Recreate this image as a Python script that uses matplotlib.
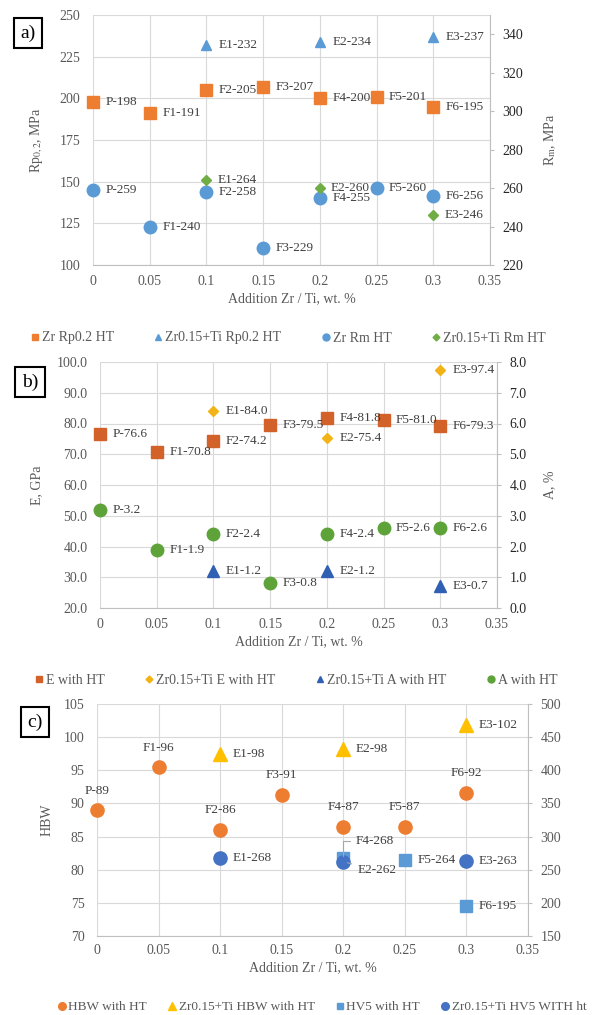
import numpy as np
import matplotlib.pyplot as plt
from matplotlib.lines import Line2D

plt.rcParams['font.family'] = ['Liberation Serif', 'DejaVu Serif']
plt.rcParams['mathtext.fontset'] = 'stix'

# sample positions (addition, wt.%) and names
add_zr = [0, 0.05, 0.1, 0.15, 0.2, 0.25, 0.3]
names_zr = ['P', 'F1', 'F2', 'F3', 'F4', 'F5', 'F6']
add_ti = [0.1, 0.2, 0.3]
names_ti = ['E1', 'E2', 'E3']
x_ticks = [0, 0.05, 0.1, 0.15, 0.2, 0.25, 0.3, 0.35]
x_tick_lbl = ['0', '0.05', '0.1', '0.15', '0.2', '0.25', '0.3', '0.35']

# a) Rp0.2 (left) and Rm (right), MPa
rp_zr = [198, 191, 205, 207, 200, 201, 195]
rp_ti = [232, 234, 237]
rm_zr = [259, 240, 258, 229, 255, 260, 256]
rm_ti = [264, 260, 246]

# b) E, GPa (left) and A, % (right)
e_zr = [76.6, 70.8, 74.2, 79.5, 81.8, 81.0, 79.3]
e_ti = [84.0, 75.4, 97.4]
a_ti = [1.2, 1.2, 0.7]
a_zr = [3.2, 1.9, 2.4, 0.8, 2.4, 2.6, 2.6]

# c) HBW (left) and HV5 (right)
hbw_zr = [89.0, 95.5, 86.0, 91.3, 86.5, 86.5, 91.6]
hbw_zr_lbl = [89, 96, 86, 91, 87, 87, 92]
hbw_ti = [97.4, 98.2, 101.8]
hbw_ti_lbl = [98, 98, 102]
add_hv5 = [0.2, 0.25, 0.3]
names_hv5 = ['F4', 'F5', 'F6']
hv5_zr = [268, 264, 195]
hv5_ti = [268, 262, 263]

GRID = '#D9D9D9'
TXT = '#595959'
LBL = '#404040'


def style(ax, ax2, right_col):
    ax.set_xlim(0, 0.35)
    ax.set_xticks(x_ticks)
    ax.set_xticklabels(x_tick_lbl)
    ax.grid(True, color=GRID, lw=0.8)
    ax.set_axisbelow(True)
    for s in ['left', 'top', 'right']:
        ax.spines[s].set_visible(False)
        ax2.spines[s].set_visible(False)
    ax.spines['bottom'].set_color('#BFBFBF')
    ax2.spines['bottom'].set_visible(False)
    ax2.spines['right'].set_visible(True)
    ax2.spines['right'].set_color('#BFBFBF')
    ax.tick_params(axis='x', length=0, pad=7, labelsize=10, labelcolor=TXT)
    ax.tick_params(axis='y', length=0, pad=9, labelsize=10, labelcolor=TXT)
    ax2.tick_params(axis='y', length=3, color='#BFBFBF', pad=6, labelsize=10,
                    labelcolor=right_col)
    ax.set_xlabel('Addition Zr / Ti, wt. %', fontsize=10, color=TXT, labelpad=3)


def put_labels(ax, xs, ys, names, vals, fmt, dx=9, dy=0, ha='left'):
    for x, y, n, v in zip(xs, ys, names, vals):
        ax.annotate(n + '-' + fmt.format(v), (x, y), xytext=(dx, dy),
                    textcoords='offset points', ha=ha, va='center',
                    fontsize=9.5, color=LBL, annotation_clip=False)


fig = plt.figure(figsize=(5.96, 10.15), dpi=100)

# ---------------- a)
ax = fig.add_axes([93 / 596, 1 - 265 / 1015, 397 / 596, 250 / 1015])
ax2 = ax.twinx()
ax.plot(add_zr, rp_zr, 's', color='#ED7D31', ms=9, clip_on=False)
ax.plot(add_ti, rp_ti, '^', color='#5B9BD5', ms=7, clip_on=False)
ax2.plot(add_zr, rm_zr, 'o', color='#5B9BD5', ms=9, clip_on=False)
ax2.plot(add_ti, rm_ti, 'D', color='#70AD47', ms=5.5, clip_on=False)
ax.set_ylim(100, 250)
ax.set_yticks(np.arange(100, 251, 25))
ax2.set_ylim(220, 350)
ax2.set_yticks(np.arange(220, 341, 20))
style(ax, ax2, '#262626')
put_labels(ax, add_zr, rp_zr, names_zr, rp_zr, '{}')
put_labels(ax, add_ti, rp_ti, names_ti, rp_ti, '{}')
put_labels(ax2, add_zr, rm_zr, names_zr, rm_zr, '{}')
put_labels(ax2, add_ti, rm_ti, names_ti, rm_ti, '{}', dx=8)
ax.set_ylabel('Rp$_{0,2}$, MPa', fontsize=10, color=TXT)
ax.yaxis.set_label_coords(-0.121, 0.5)
ax2.set_ylabel('R$_{\\mathrm{m}}$, MPa', fontsize=10, color=TXT)
ax2.yaxis.set_label_coords(1.131, 0.5)
h = [Line2D([], [], marker='s', color='#ED7D31', ls='none', ms=5),
     Line2D([], [], marker='^', color='#5B9BD5', ls='none', ms=5),
     Line2D([], [], marker='o', color='#5B9BD5', ls='none', ms=5),
     Line2D([], [], marker='D', color='#70AD47', ls='none', ms=3.5)]
fig.legend(h, ['Zr Rp0.2 HT', 'Zr0.15+Ti Rp0.2 HT', 'Zr Rm HT', 'Zr0.15+Ti Rm HT'],
           loc='center', bbox_to_anchor=(288 / 596, 1 - 338 / 1015), ncol=4,
           frameon=False, fontsize=10, labelcolor=TXT, handlelength=0.6,
           handletextpad=0.2, columnspacing=2.9)

# ---------------- b)
ax = fig.add_axes([100 / 596, 1 - 608 / 1015, 397 / 596, 246 / 1015])
ax2 = ax.twinx()
ax.plot(add_zr, e_zr, 's', color='#D2622A', ms=9, clip_on=False)
ax.plot(add_ti, e_ti, 'D', color='#F2B316', ms=5.5, clip_on=False)
ax2.plot(add_ti, a_ti, '^', color='#3060B4', ms=9, clip_on=False)
ax2.plot(add_zr, a_zr, 'o', color='#5EA33A', ms=9, clip_on=False)
ax.set_ylim(20, 100)
ax.set_yticks(np.arange(20, 101, 10))
ax.set_yticklabels(['%.1f' % v for v in np.arange(20, 101, 10)])
ax2.set_ylim(0, 8)
ax2.set_yticks(np.arange(0, 9, 1))
ax2.set_yticklabels(['%.1f' % v for v in np.arange(0, 9, 1)])
style(ax, ax2, '#262626')
put_labels(ax, add_zr, e_zr, names_zr, e_zr, '{:.1f}')
put_labels(ax, add_ti, e_ti, names_ti, e_ti, '{:.1f}')
put_labels(ax2, add_ti, a_ti, names_ti, a_ti, '{:.1f}')
put_labels(ax2, add_zr, a_zr, names_zr, a_zr, '{:.1f}')
ax.set_ylabel('E, GPa', fontsize=10, color=TXT)
ax.yaxis.set_label_coords(-0.1436, 0.5)
ax2.set_ylabel('A, %', fontsize=10, color=TXT)
ax2.yaxis.set_label_coords(1.116, 0.5)
h = [Line2D([], [], marker='s', color='#D2622A', ls='none', ms=5),
     Line2D([], [], marker='D', color='#F2B316', ls='none', ms=3.5),
     Line2D([], [], marker='^', color='#3060B4', ls='none', ms=5),
     Line2D([], [], marker='o', color='#5EA33A', ls='none', ms=5)]
fig.legend(h, ['E with HT', 'Zr0.15+Ti E with HT', 'Zr0.15+Ti A with HT', 'A with HT'],
           loc='center', bbox_to_anchor=(296 / 596, 1 - 680 / 1015), ncol=4,
           frameon=False, fontsize=10, labelcolor=TXT, handlelength=0.6,
           handletextpad=0.2, columnspacing=2.9)

# ---------------- c)
ax = fig.add_axes([97 / 596, 1 - 936 / 1015, 431 / 596, 232 / 1015])
ax2 = ax.twinx()
ax.plot(add_zr, hbw_zr, 'o', color='#ED7D31', ms=9.5, clip_on=False)
ax.plot(add_ti, hbw_ti, '^', color='#FFC000', ms=9.5, clip_on=False)
ax2.plot(add_hv5, hv5_zr, 's', color='#5B9BD5', ms=8, clip_on=False)
ax2.plot(add_ti, hv5_ti, 'o', color='#4472C4', ms=9.5, clip_on=False)
ax.set_ylim(70, 105)
ax.set_yticks(np.arange(70, 106, 5))
ax2.set_ylim(150, 500)
ax2.set_yticks(np.arange(150, 501, 50))
style(ax, ax2, TXT)
ax.tick_params(axis='x', pad=6)
put_labels(ax, add_zr, hbw_zr, names_zr, hbw_zr_lbl, '{}', dx=0, dy=14, ha='center')
put_labels(ax, add_ti, hbw_ti, names_ti, hbw_ti_lbl, '{}')
put_labels(ax2, add_hv5[1:], hv5_zr[1:], names_hv5[1:], hv5_zr[1:], '{}')
put_labels(ax2, add_ti[::2], hv5_ti[::2], names_ti[::2], hv5_ti[::2], '{}')
# the two crowded points at 0.2 get leader lines
ax2.annotate('F4-268', (add_hv5[0], hv5_zr[0]), xytext=(9, 12),
             textcoords='offset points', ha='left', va='center', fontsize=9.5,
             color=LBL, arrowprops=dict(arrowstyle='-', color='#A6A6A6', lw=0.8,
                                        shrinkA=2, shrinkB=1,
                                        connectionstyle='angle,angleA=0,angleB=90,rad=0'))
ax2.annotate('E2-262', (add_ti[1], hv5_ti[1]), xytext=(10, -6),
             textcoords='offset points', ha='left', va='center', fontsize=9.5,
             color=LBL, arrowprops=dict(arrowstyle='-', color='#A6A6A6', lw=0.8,
                                        shrinkA=2, shrinkB=3))
ax.set_ylabel('HBW', fontsize=10, color=TXT)
ax.yaxis.set_label_coords(-0.102, 0.5)
h = [Line2D([], [], marker='o', color='#ED7D31', ls='none', ms=5.5),
     Line2D([], [], marker='^', color='#FFC000', ls='none', ms=5.5),
     Line2D([], [], marker='s', color='#5B9BD5', ls='none', ms=5),
     Line2D([], [], marker='o', color='#4472C4', ls='none', ms=5.5)]
fig.legend(h, ['HBW with HT', 'Zr0.15+Ti HBW with HT', 'HV5 with HT', 'Zr0.15+Ti HV5 WITH ht'],
           loc='center', bbox_to_anchor=(322 / 596, 1 - 1007 / 1015), ncol=4,
           frameon=False, fontsize=9.5, labelcolor=TXT, handlelength=0.6,
           handletextpad=0.2, columnspacing=1.6)

# panel letters
for lt, xp, yp in [('a)', 28, 33), ('b)', 30, 382), ('c)', 35, 722)]:
    fig.text(xp / 596, 1 - yp / 1015, lt, fontsize=14, ha='center', va='center',
             bbox=dict(boxstyle='square,pad=0.35', fc='white', ec='black', lw=1.5))

fig.savefig('out.png', dpi=100)
